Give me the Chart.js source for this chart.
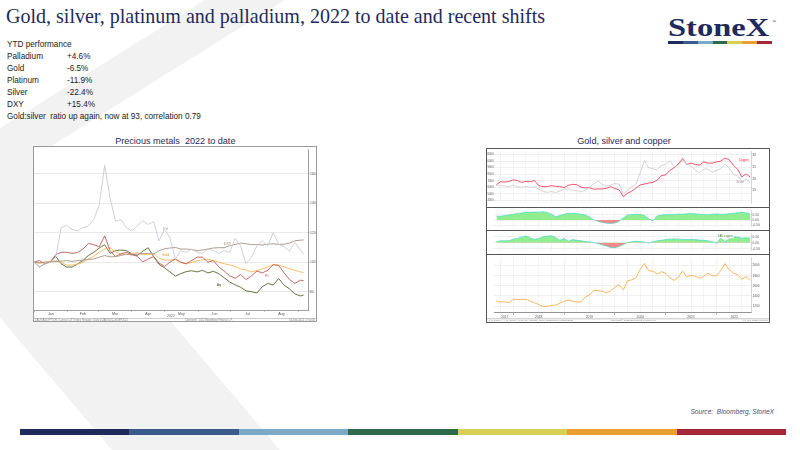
<!DOCTYPE html>
<html>
<head>
<meta charset="utf-8">
<script src="https://cdn.jsdelivr.net/npm/chart.js@4.4.0/dist/chart.umd.min.js"></script>
<style>
  html,body{margin:0;padding:0;background:#fff;}
  body{position:relative;width:800px;height:450px;overflow:hidden;font-family:"Liberation Sans",Arial,sans-serif;}
  .abs{position:absolute;}
  #chev{left:0;top:0;width:800px;height:450px;background:#f2f2f2;
        clip-path:polygon(205px 0,285px 0,32px 158px,280px 450px,112px 450px,-105px 194px);}
  #title{left:6px;top:2.9px;font-family:"Liberation Serif","Times New Roman",serif;font-size:22px;line-height:26px;color:#1f2a5c;white-space:nowrap;transform:scaleX(0.91);transform-origin:0 0;}
  .ytd{font-size:8.2px;line-height:12px;color:#222;white-space:pre;}
  .ctitle{font-size:9.1px;line-height:10px;color:#1f2a5c;white-space:pre;transform:translateX(-50%);top:136.3px;}
  #src{right:26px;top:407.7px;font-style:italic;font-size:6.6px;line-height:8px;color:#4a5070;white-space:pre;}
  #logo{left:668px;top:13.6px;font-family:"Liberation Serif","Times New Roman",serif;font-weight:bold;font-size:25px;line-height:28px;color:#1f2a5c;transform:scaleX(1.3);transform-origin:0 0;white-space:nowrap;}
  #tm{left:772px;top:19px;font-size:4px;line-height:5px;color:#1f2a5c;}
  .bar{display:flex;}
  .bar div{flex:1;height:100%;}
  .frame{box-sizing:border-box;background:#fff;}
  canvas{position:absolute;}
</style>
</head>
<body>
<div id="chev" class="abs"></div>
<div id="title" class="abs">Gold, silver, platinum and palladium, 2022 to date and recent shifts</div>
<div id="logo" class="abs">StoneX</div>
<div id="tm" class="abs">™</div>
<div class="abs bar" style="left:668px;top:41px;width:104px;height:3px;">
  <div style="background:#1f2a5c"></div><div style="background:#3a5a8c"></div><div style="background:#7aa8c8"></div><div style="background:#2e6a4c"></div><div style="background:#d9cf56"></div><div style="background:#e9a030"></div><div style="background:#a5283a"></div>
</div>

<div id="ytdBox"></div>

<div class="abs ctitle" style="left:175.3px;">Precious metals  2022 to date</div>
<div class="abs ctitle" style="left:624px;">Gold, silver and copper</div>

<div class="abs frame" style="left:33px;top:146px;width:284px;height:176px;border:1px solid #9a9a9a;"></div>
<canvas id="cLeft" width="282" height="174" style="left:34px;top:147px;width:282px;height:174px;"></canvas>

<div class="abs frame" style="left:486px;top:148px;width:284px;height:175px;border:1px solid #555;"></div>
<canvas id="p1" width="282" height="59" style="left:487px;top:148px;width:282px;height:59px;"></canvas>
<canvas id="p2" width="282" height="23" style="left:487px;top:207px;width:282px;height:23px;"></canvas>
<canvas id="p3" width="282" height="24" style="left:487px;top:230px;width:282px;height:24px;"></canvas>
<canvas id="p4" width="282" height="68" style="left:487px;top:254px;width:282px;height:68px;"></canvas>
<div class="abs" style="left:486px;top:206.5px;width:284px;height:1.5px;background:#555;"></div>
<div class="abs" style="left:486px;top:229.5px;width:284px;height:1.5px;background:#555;"></div>
<div class="abs" style="left:486px;top:253.5px;width:284px;height:1.5px;background:#555;"></div>

<div id="src" class="abs">Source:  Bloomberg, StoneX</div>
<div class="abs bar" style="left:20px;top:429px;width:766px;height:6px;">
  <div style="background:#1f2a5c"></div><div style="background:#3a5a8c"></div><div style="background:#7aa8c8"></div><div style="background:#2e6a4c"></div><div style="background:#d9cf56"></div><div style="background:#e9a030"></div><div style="background:#a5283a"></div>
</div>

<script>
// ---------- text block ----------
const ytdLabels = ['Palladium','Gold','Platinum','Silver','DXY'];
const ytdValues = ['+4.6%','-6.5%','-11.9%','-22.4%','+15.4%'];
const ytdHeader = 'YTD performance';
const ytdFooter = 'Gold:silver  ratio up again, now at 93, correlation 0.79';

// ---------- left chart data (index, 2022 start = 100) ----------
const days = [0,5,10,15,20,25,30,35,40,45,50,55,60,65,70,75,80,85,90,95,100,105,110,115,120,125,130,135,140,145,150,155,160,165,170,175,180,185,190,195,200,205,210,215,220,225,230,235,240,245,248];
const palladium = [100.2,96.9,99.1,100.2,103.6,123.6,125.1,122.4,121.3,123.6,124.7,129.1,139.1,165.8,143.6,128,129.1,123.6,121.3,124.7,128.4,125.8,127.6,114.7,122.4,116.9,102.4,108,106.9,109.1,106.9,106.2,109.1,108,106.2,108,106.9,116.4,111.3,99.1,103.6,111.3,114.7,111.3,120.2,112.4,110.7,107.6,113.6,108.4,105.8];
const platinum = [100.2,101.3,99.1,100.2,105.3,106.9,106.9,106.2,106.7,109.1,112.9,112,110.7,118,108,104,105.8,106.9,105.3,104.2,100.4,102.4,104,99.6,97.3,100.2,102.4,100.2,99.1,101.3,103.6,103.6,100.2,101.3,96.9,94.2,90.9,89.3,91.8,88.4,90.9,94.2,92.9,94.7,98.4,98,92.9,88.4,85.8,88,87.6];
const silverYtd = [100.2,96.9,99.1,100.7,104.2,99.1,96.9,96.9,98.9,101.3,104.7,106.9,109.8,112,106.2,108,108.4,108,105.8,104.7,107.6,110,104,98.7,96.4,93.6,90.7,92.4,93.8,94.4,93.6,94.7,92.9,94,92.4,89.6,86.7,84.9,83.3,80.7,80.2,79.3,83.6,85.8,84.7,89.1,84.7,82,78.7,77.3,78];
const goldYtd = [100.2,99.3,100.2,100.7,101.1,100,98.2,98.2,98.9,100,102.4,104.2,107.1,109.1,110,107.1,105.8,105.3,105.8,106.7,105.3,105.6,106,102.9,101.6,101.6,102.2,100,99.1,100,101.1,101.8,102.2,101.3,100.2,99.1,98.4,97.3,95.6,94.9,93.6,94.4,95.6,96.9,98.7,98.2,97.1,95.8,94.7,93.6,93.1];
const dxy = [100.2,99.8,100.2,100.4,100.7,100.9,101.3,100.7,101.3,101.6,102,102.4,103.6,104.7,103.8,104,104.7,105.6,105.1,105.8,106,106,105.6,108,109.3,109.8,110.2,109.1,109.1,108.7,108,108.4,109.1,109.8,110,110,111.3,112.2,113.1,112.7,112,112.2,111.8,112.4,112.7,112.2,112.4,113.1,114.7,115.1,115.3];
const monthStarts = [0,31,59,90,120,151,181,212,243];
const monthMids = [15.5,45,74.5,105,135.5,166,196.5,227.5];
const monthNames = ['Jan','Feb','Mar','Apr','May','Jun','Jul','Aug'];
const leftYTicks = [80,100,120,140,160];
const leftTags = [
  {text:'Pd', d:121, v:122.5, color:'#9a9a9a'},
  {text:'DXY', d:178, v:112.5, color:'#8a7c6c'},
  {text:'Gold', d:121, v:105, color:'#e89a30'},
  {text:'Pt', d:214, v:90.5, color:'#b04a45'},
  {text:'Ag', d:170, v:85, color:'#4f6228'}
];

// ---------- right chart data (monthly, Sep 2017 .. Sep 2022) ----------
const firstMonth = 2017 + 8/12;
const monthCount = 61;
const months = Array.from({length:monthCount}, (_, i) => firstMonth + i/12);
const copper = [6400,6850,6800,6900,7150,7000,6750,6900,6850,7050,6250,6100,6100,6250,6150,6100,5950,6300,6450,6400,6000,5900,5950,5700,5750,5750,5850,6100,5800,5600,4550,5100,5400,5900,6350,6500,6650,6750,7100,7800,7900,8600,9000,9600,10400,9500,9700,9500,9400,9900,9700,9700,9900,10000,10500,10200,9400,8750,7600,8050,7550];
const silverUsd = [17.1,17.0,17.0,16.6,17.3,16.6,16.4,16.7,16.4,16.5,15.6,14.6,14.3,14.6,14.2,14.8,15.6,15.8,15.2,15.0,14.5,15.1,16.4,17.8,19.0,17.6,17.0,17.3,18.0,17.6,13.5,15.2,16.5,17.8,22.5,27.5,24.5,24.2,23.5,25.5,26.0,27.5,25.0,25.6,27.8,26.2,25.3,23.6,22.5,24.0,24.0,22.6,23.4,24.2,26.0,24.5,21.8,21.2,18.9,19.8,18.3];
const goldUsd = [1300,1280,1285,1265,1340,1330,1330,1335,1300,1265,1230,1195,1195,1215,1220,1255,1295,1320,1300,1280,1285,1380,1420,1510,1505,1495,1465,1500,1570,1620,1520,1700,1720,1760,1930,2040,1900,1890,1830,1880,1850,1760,1710,1770,1890,1780,1810,1790,1750,1790,1850,1800,1800,1900,2040,1920,1850,1820,1730,1780,1710];
const corrA = [0.36,0.36,0.42,0.47,0.55,0.62,0.66,0.71,0.73,0.75,0.73,0.77,0.71,0.55,0.31,0.42,0.55,0.64,0.62,0.6,0.55,0.47,0.29,0.03,-0.1,-0.21,-0.29,-0.31,-0.27,-0.1,0.2,0.47,0.51,0.55,0.51,0.44,0.12,-0.05,0.38,0.47,0.51,0.49,0.53,0.55,0.55,0.58,0.6,0.58,0.55,0.51,0.49,0.55,0.58,0.53,0.55,0.6,0.64,0.66,0.73,0.69,0.55];
const corrB = [0.08,0.16,0.16,0.16,0.3,0.36,0.48,0.56,0.4,0.28,0.36,0.48,0.56,0.58,0.44,0.2,0.36,0.12,0.26,0.2,0.16,0.1,0.08,0,-0.06,-0.18,-0.28,-0.4,-0.42,-0.32,-0.16,0.02,0.08,0.12,0.1,0.06,-0.04,0.08,0.16,0.2,0.26,0.3,0.32,0.3,0.28,0.26,0.28,0.26,0.22,0.2,0.16,0.08,-0.06,0.4,0.08,0.32,0.5,0.48,0.38,0.42,0.38];
const copperTicks = [4000,5000,6000,7000,8000,9000,10000,11000];
const silverTicks = [15,20,25,30];
const corrTicks = [-0.5,0,0.5];
const goldTicks = [1200,1400,1600,1800,2000];
const yearLabelPos = {'2017':2017.83,'2018':2018.5,'2019':2019.5,'2020':2020.5,'2021':2021.5,'2022':2022.35};

// ---------- build text block ----------
(function(){
  const box = document.getElementById('ytdBox');
  const rows = [[ytdHeader,null]].concat(ytdLabels.map((l,i)=>[l,ytdValues[i]])).concat([[ytdFooter,null]]);
  rows.forEach((r,i)=>{
    const top = 38.5 + i*12;
    const a = document.createElement('div'); a.className='abs ytd'; a.style.left='7px'; a.style.top=top+'px'; a.textContent=r[0]; box.appendChild(a);
    if(r[1]!==null){ const b=document.createElement('div'); b.className='abs ytd'; b.style.left='67px'; b.style.top=top+'px'; b.textContent=r[1]; box.appendChild(b);}
  });
})();

const FONT = '"Liberation Sans", Arial, sans-serif';
Chart.defaults.font.family = FONT;
const pts = (xs, ys) => xs.map((x,i)=>({x:x, y:ys[i]}));
const line = (label, xs, ys, color, w, extra) => Object.assign({label, data:pts(xs,ys), borderColor:color, borderWidth:w, pointRadius:0, tension:0, fill:false}, extra||{});
const baseOpts = {responsive:false, animation:false, events:[], plugins:{legend:{display:false}, tooltip:{enabled:false}}};

// ---------- left chart ----------
const leftTagPlugin = {id:'leftTags', afterDatasetsDraw(chart){
  const c=chart.ctx, x=chart.scales.x, y=chart.scales.y;
  c.save(); c.font='3.6px '+FONT; c.textAlign='center'; c.textBaseline='middle';
  leftTags.forEach(t=>{ c.fillStyle=t.color; c.fillText(t.text, x.getPixelForValue(t.d), y.getPixelForValue(t.v)); });
  c.restore();
}};
const leftFooterPlugin = {id:'leftFooter', afterDraw(chart){
  const c=chart.ctx, a=chart.chartArea, W=chart.width;
  c.save();
  c.fillStyle='#666'; c.font='3.6px '+FONT; c.textAlign='center'; c.textBaseline='middle';
  c.fillText('2022', (a.left+a.right)/2, a.bottom+6);
  c.strokeStyle='#aaa'; c.lineWidth=0.6; c.beginPath(); c.moveTo(0,a.bottom+8.5); c.lineTo(W,a.bottom+8.5); c.stroke();
  c.fillStyle='#888'; c.font='2.6px '+FONT;
  c.textAlign='left'; c.fillText('XAU/XAG/XPT/XPD Curncy, DXY Index  Relative  Daily 03JAN2022-06SEP2022', 1, a.bottom+10.3);
  c.textAlign='center'; c.fillText('Copyright\u00A9 2022 Bloomberg Finance L.P.', W*0.62, a.bottom+10.3);
  c.textAlign='right'; c.fillText('06-Sep-2022 17:00:00', W-1, a.bottom+10.3);
  c.restore();
}};
new Chart(document.getElementById('cLeft'), {
  type:'line',
  data:{datasets:[
    line('Palladium', days, palladium, '#c8ccd4', 0.9),
    line('DXY', days, dxy, '#a39482', 0.9),
    line('Platinum', days, platinum, '#bd5a55', 0.9),
    line('Gold', days, goldYtd, '#fdb75a', 0.9),
    line('Silver', days, silverYtd, '#56682e', 0.9)
  ]},
  options:Object.assign({}, baseOpts, {
    layout:{padding:0},
    scales:{
      x:{type:'linear', min:0, max:252,
         afterBuildTicks:s=>{ s.ticks = monthStarts.concat(monthMids).sort((a,b)=>a-b).map(v=>({value:v})); },
         afterFit:s=>{ s.height = 11; },
         grid:{drawOnChartArea:false, drawTicks:true, tickLength:1.5, tickColor:ctx=> (ctx.tick && monthStarts.includes(ctx.tick.value)) ? '#888' : 'rgba(0,0,0,0)'},
         border:{color:'#888', width:0.8},
         ticks:{autoSkip:false, maxRotation:0, padding:0, color:'#555', font:{size:3.6},
                callback:v=>{ const i=monthMids.indexOf(v); return i>=0 ? monthNames[i] : ''; }}
      },
      y:{type:'linear', position:'right', min:67.8, max:176.5,
         afterBuildTicks:s=>{ s.ticks = leftYTicks.map(v=>({value:v})); },
         afterFit:s=>{ s.width = 8; },
         grid:{color:'#e3e3e3', lineWidth:0.8, tickLength:1.5, tickColor:'#888'},
         border:{color:'#888', width:0.8},
         ticks:{padding:0.5, color:'#555', font:{size:3.4}, callback:v=>String(v)}
      }
    }
  }),
  plugins:[leftTagPlugin, leftFooterPlugin]
});

// ---------- right chart ----------
const quarterTicks = [];
for(let q=2017.75; q<=2022.5001; q+=0.25) quarterTicks.push(Math.round(q*100)/100);
const isQuarter = v => quarterTicks.some(q=>Math.abs(q-v)<1e-6);
function xOpts(show){
  return {type:'linear', min:2017.62, max:2022.68,
    afterBuildTicks:s=>{
      const list = show ? quarterTicks.concat(Object.values(yearLabelPos).filter(v=>!isQuarter(v))) : quarterTicks.slice();
      s.ticks = list.sort((a,b)=>a-b).map(v=>({value:v}));
    },
    afterFit:s=>{ s.height = show ? 9.5 : 0; },
    grid:{color:ctx=> (ctx.tick && isQuarter(ctx.tick.value)) ? '#ececec' : 'rgba(0,0,0,0)', lineWidth:0.6,
          drawTicks:show, tickLength:2.5,
          tickColor:ctx=> (ctx.tick && Math.abs(ctx.tick.value-Math.round(ctx.tick.value))<1e-6) ? '#888' : 'rgba(0,0,0,0)'},
    border:{display:show, color:'#777', width:0.8},
    ticks:{display:show, autoSkip:false, maxRotation:0, padding:0.3, color:'#555', font:{size:3.4},
      callback:v=>{ for(const k in yearLabelPos){ if(Math.abs(yearLabelPos[k]-v)<1e-6) return k; } return ''; }}
  };
}
function yRight(min, max, ticks, fmt, grid){
  return {type:'linear', position:'right', min, max,
    afterBuildTicks:s=>{ s.ticks = ticks.map(v=>({value:v})); },
    afterFit:s=>{ s.width = 18; },
    grid:{display:grid!==false, drawOnChartArea:grid!==false, color:'#e6e6e6', lineWidth:0.6, drawTicks:false},
    border:{color:'#bbb', width:0.6},
    ticks:{padding:1.5, color:'#555', font:{size:3.2}, callback:fmt}
  };
}

// Panel 1: copper & silver
const p1Labels = {id:'p1Labels', afterDatasetsDraw(chart){
  const c=chart.ctx, x=chart.scales.x;
  c.save(); c.font='3.2px '+FONT; c.textAlign='center'; c.textBaseline='middle';
  c.fillStyle='#f0284a'; c.fillText('Copper', x.getPixelForValue(2022.54), chart.scales.y.getPixelForValue(10150));
  c.fillStyle='#999'; c.fillText('Silver', x.getPixelForValue(2022.47), chart.scales.y2.getPixelForValue(18.4));
  c.restore();
}};
new Chart(document.getElementById('p1'), {
  type:'line',
  data:{datasets:[
    line('Silver', months, silverUsd, '#c9c9c9', 0.8, {yAxisID:'y2'}),
    line('Copper', months, copper, '#f0284a', 0.8, {yAxisID:'y'})
  ]},
  options:Object.assign({}, baseOpts, {
    layout:{padding:0},
    scales:{
      x:xOpts(false),
      y:{type:'linear', position:'left', min:3500, max:11500,
         afterBuildTicks:s=>{ s.ticks = copperTicks.map(v=>({value:v})); },
         afterFit:s=>{ s.width = 7; },
         grid:{color:'#e6e6e6', lineWidth:0.6, drawTicks:false},
         border:{display:false},
         ticks:{padding:0.3, color:'#555', font:{size:2.8}, callback:v=>String(v)}},
      y2:yRight(9.56, 31.4, silverTicks, v=>String(v), false)
    }
  }),
  plugins:[p1Labels]
});

// Panels 2 & 3: correlations
function corrChart(id, series, min, max, tag){
  const tagPlugin = {id:'tag'+id, afterDatasetsDraw(chart){
    if(!tag) return;
    const c=chart.ctx, x=chart.scales.x, y=chart.scales.y;
    const px=x.getPixelForValue(tag.t), py=y.getPixelForValue(tag.v);
    c.save(); c.font='2.8px '+FONT; c.textAlign='center'; c.textBaseline='middle';
    const w=c.measureText(tag.text).width+2;
    c.fillStyle='rgba(255,255,255,0.85)'; c.fillRect(px-w/2, py-2, w, 4);
    c.fillStyle='#3b7d2e'; c.fillText(tag.text, px, py);
    c.restore();
  }};
  new Chart(document.getElementById(id), {
    type:'line',
    data:{datasets:[ line('corr', months, series, '#45d8c8', 0.7, {fill:{target:{value:0}, above:'#90ee90', below:'#f28a8a'}}) ]},
    options:Object.assign({}, baseOpts, {
      layout:{padding:{left:7}},
      scales:{ x:xOpts(false), y:yRight(min, max, corrTicks, v=>v.toFixed(2)) }
    }),
    plugins:[tagPlugin]
  });
}
corrChart('p2', corrA, -0.6, 0.9, null);
corrChart('p3', corrB, -0.66, 0.78, {text:'XAU copper', t:2022.17, v:0.54});

// Panel 4: gold
const p4Footer = {id:'p4Footer', afterDraw(chart){
  const c=chart.ctx, a=chart.chartArea, W=chart.width;
  c.save();
  c.strokeStyle='#999'; c.lineWidth=0.6; c.beginPath(); c.moveTo(0,a.bottom+6.3); c.lineTo(W,a.bottom+6.3); c.stroke();
  c.fillStyle='#888'; c.font='2.5px '+FONT; c.textBaseline='middle';
  c.textAlign='left'; c.fillText('XAU Curncy, XAG Curncy, LMCADY Comdty  Daily 01SEP2017-06SEP2022', 1, a.bottom+8);
  c.textAlign='center'; c.fillText('Copyright\u00A9 2022 Bloomberg Finance L.P.', W*0.52, a.bottom+8);
  c.textAlign='right'; c.fillText('06-Sep-2022 17:00:00', W-1, a.bottom+8);
  c.restore();
}};
new Chart(document.getElementById('p4'), {
  type:'line',
  data:{datasets:[ line('Gold', months, goldUsd, '#f9a63a', 0.8) ]},
  options:Object.assign({}, baseOpts, {
    layout:{padding:{left:7}},
    scales:{ x:xOpts(true), y:yRight(1073, 2162, goldTicks, v=>String(v)) }
  }),
  plugins:[p4Footer]
});
</script>
</body>
</html>
